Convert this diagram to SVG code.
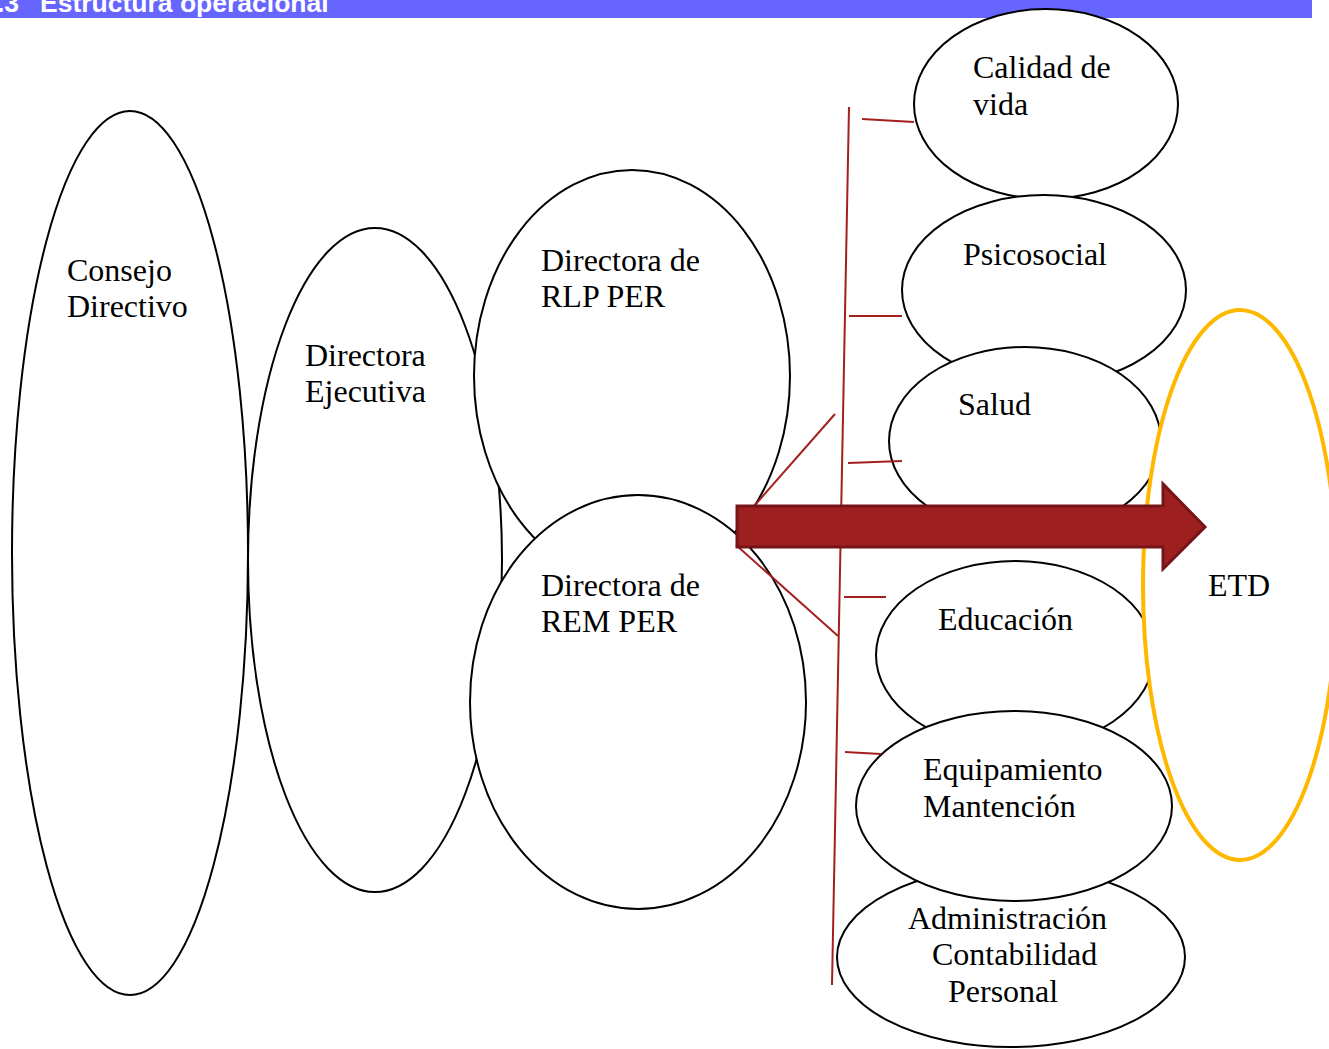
<svg xmlns="http://www.w3.org/2000/svg" width="1329" height="1049" viewBox="0 0 1329 1049">
<style>
.n{fill:#fff;stroke:#000;stroke-width:2}
.t{font-family:"Liberation Serif","Times New Roman",serif;font-size:32px;fill:#000}
.c{stroke:#A3201E;stroke-width:2;fill:none}
</style>
<rect x="0" y="0" width="1329" height="1049" fill="#fff"/>
<g id="header">
<rect x="0" y="0" width="1312" height="18" fill="#6666FF"/>
<text x="-3" y="12" font-family="Liberation Sans,Arial,sans-serif" font-size="26.5" font-weight="bold" fill="#fff">.3<tspan x="40">Estructura operacional</tspan></text>
</g>
<g id="consejo"><ellipse class="n" cx="130" cy="553" rx="118" ry="442"/><text class="t" x="67" y="281">Consejo</text><text class="t" x="67" y="317">Directivo</text></g>
<g id="ejecutiva"><ellipse class="n" cx="375" cy="560" rx="127" ry="332"/><text class="t" x="305" y="366">Directora</text><text class="t" x="305" y="402">Ejecutiva</text></g>
<g id="rlp"><ellipse class="n" cx="632" cy="376" rx="158" ry="206"/><text class="t" x="541" y="271">Directora de</text><text class="t" x="541" y="307">RLP PER</text></g>
<g id="rem"><ellipse class="n" cx="638" cy="702" rx="168" ry="207"/><text class="t" x="541" y="596">Directora de</text><text class="t" x="541" y="632">REM PER</text></g>
<g id="calidad"><ellipse class="n" cx="1046" cy="104" rx="132" ry="95"/><text class="t" x="973" y="78">Calidad de</text><text class="t" x="973" y="115">vida</text></g>
<g id="psicosocial"><ellipse class="n" cx="1044" cy="290" rx="142" ry="95"/><text class="t" x="963" y="265">Psicosocial</text></g>
<g id="salud"><ellipse class="n" cx="1025" cy="441" rx="136" ry="94"/><text class="t" x="958" y="415">Salud</text></g>
<g id="educacion"><ellipse class="n" cx="1015" cy="655" rx="139" ry="94"/><text class="t" x="938" y="630">Educación</text></g>
<g id="admin"><ellipse class="n" cx="1011" cy="957" rx="174" ry="90"/><text class="t" x="908" y="929">Administración</text><text class="t" x="932" y="965">Contabilidad</text><text class="t" x="948" y="1002">Personal</text></g>
<g id="equipamiento"><ellipse class="n" cx="1014" cy="806" rx="158" ry="95"/><text class="t" x="923" y="780">Equipamiento</text><text class="t" x="923" y="817">Mantención</text></g>
<g id="connectors">
<line class="c" x1="849" y1="107" x2="832" y2="985"/>
<line class="c" x1="862" y1="119" x2="914" y2="122"/>
<line class="c" x1="849" y1="316" x2="902" y2="316"/>
<line class="c" x1="848" y1="463" x2="902" y2="461"/>
<line class="c" x1="844" y1="597" x2="886" y2="597"/>
<line class="c" x1="845" y1="752" x2="881" y2="754"/>
<line class="c" x1="755" y1="505" x2="835" y2="414"/>
<line class="c" x1="736" y1="545" x2="838" y2="636"/>
</g>
<g id="etd"><ellipse cx="1240" cy="585" rx="97" ry="275" fill="#fff" stroke="#FFB800" stroke-width="4"/><text class="t" x="1208" y="596">ETD</text></g>
<g id="arrow"><polygon points="737,506 1163,506 1163,484 1205,527 1163,569 1163,547 737,547" fill="#9E1F20" stroke="#761417" stroke-width="3"/></g>
</svg>
